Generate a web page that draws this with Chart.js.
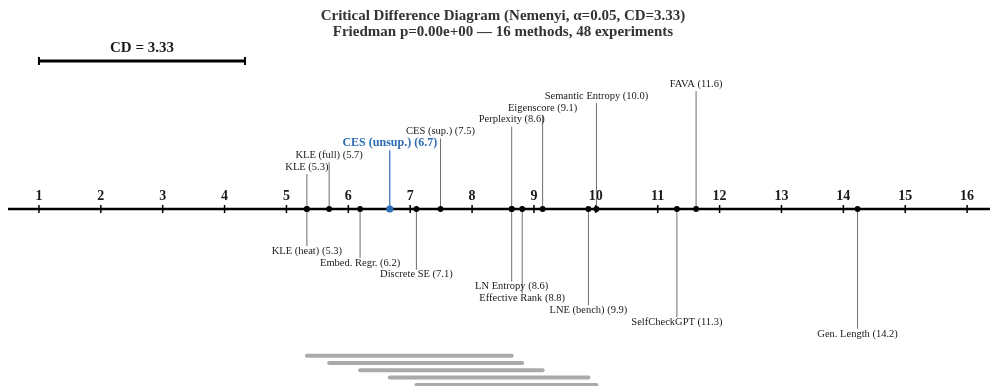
<!DOCTYPE html>
<html><head><meta charset="utf-8">
<script src="https://cdn.jsdelivr.net/npm/chart.js@4.4.1/dist/chart.umd.min.js"></script>
<style>html,body{margin:0;padding:0;background:#fff;} #wrap{width:992px;height:386px;position:relative;}</style>
</head><body><div id="wrap"><canvas id="c"></canvas></div>
<script>
const methods = ['KLE','KLE (heat)','KLE (full)','Embed. Regr.','CES (unsup.)','Discrete SE','CES (sup.)','Perplexity','LN Entropy','Effective Rank','Eigenscore','LNE (bench)','Semantic Entropy','SelfCheckGPT','FAVA','Gen. Length'];
const avgRanks = [5.33,5.33,5.69,6.19,6.67,7.10,7.49,8.64,8.64,8.81,9.14,9.88,10.01,11.31,11.62,14.23];
const labelSide = ['up','down','up','down','up','down','up','up','down','down','up','down','up','down','up','down'];
const highlightMethod = 'CES (unsup.)';
const tickValues = [1,2,3,4,5,6,7,8,9,10,11,12,13,14,15,16];
const tickLabels = ['1','2','3','4','5','6','7','8','9','10','11','12','13','14','15','16'];
const criticalDifference = 3.33;
const cliqueFrom = ['KLE','KLE (full)','Embed. Regr.','CES (unsup.)','Discrete SE'];
const cliqueTo = ['LN Entropy','Effective Rank','Eigenscore','LNE (bench)','Semantic Entropy'];
const titleLines = ['Critical Difference Diagram (Nemenyi, \u03b1=0.05, CD=3.33)','Friedman p=0.00e+00 \u2014 16 methods, 48 experiments'];

const SERIF = "'Liberation Serif','Times New Roman','DejaVu Serif',serif";
const BLUE = '#2d6db4';

// levels per side
const levels = [];
let upCount = 0, downCount = 0;
methods.forEach((m, i) => { levels[i] = labelSide[i] === 'up' ? upCount++ : downCount++; });

const rankOf = name => avgRanks[methods.indexOf(name)];

const cliqueDatasets = cliqueFrom.map((f, i) => ({
  type: 'line',
  data: [{x: rankOf(f), y: -146.7 - i * 7.3}, {x: rankOf(cliqueTo[i]), y: -146.7 - i * 7.3}],
  borderColor: '#aaaaaa', borderWidth: 4, borderCapStyle: 'round',
  pointRadius: 0, showLine: true, clip: false, order: 2
}));

const cdPlugin = {
  id: 'cdPlugin',
  beforeDatasetsDraw(chart) {
    const ctx = chart.ctx, xs = chart.scales.x, ys = chart.scales.y;
    const axisY = ys.getPixelForValue(0);
    ctx.save();
    // main axis
    ctx.strokeStyle = '#000'; ctx.lineWidth = 2.5;
    ctx.beginPath(); ctx.moveTo(chart.chartArea.left, axisY); ctx.lineTo(chart.chartArea.right, axisY); ctx.stroke();
    ctx.lineWidth = 1.5;
    ctx.font = 'bold 14px ' + SERIF; ctx.fillStyle = '#1a1a1a'; ctx.textAlign = 'center'; ctx.textBaseline = 'middle';
    tickValues.forEach((v, i) => {
      const px = xs.getPixelForValue(v);
      ctx.beginPath(); ctx.moveTo(px, axisY - 4); ctx.lineTo(px, axisY + 4); ctx.stroke();
      ctx.fillText(tickLabels[i], px, axisY - 13);
    });
    // leader lines
    methods.forEach((m, i) => {
      const px = xs.getPixelForValue(avgRanks[i]);
      const hl = m === highlightMethod;
      ctx.strokeStyle = hl ? BLUE : '#6e6e6e';
      ctx.lineWidth = hl ? 1.2 : 1;
      ctx.beginPath();
      if (labelSide[i] === 'up') {
        const ly = axisY - 42 - levels[i] * 11.85;
        ctx.moveTo(px, axisY); ctx.lineTo(px, ly + 7);
      } else {
        const ly = axisY + 42 + levels[i] * 11.85;
        ctx.moveTo(px, axisY); ctx.lineTo(px, ly - 5);
      }
      ctx.stroke();
    });
    // CD bar
    const cdY = 61;
    const x0 = xs.getPixelForValue(tickValues[0]), x1 = xs.getPixelForValue(tickValues[0] + criticalDifference);
    ctx.strokeStyle = '#000'; ctx.lineWidth = 3;
    ctx.beginPath(); ctx.moveTo(x0, cdY); ctx.lineTo(x1, cdY); ctx.stroke();
    ctx.lineWidth = 2;
    ctx.beginPath(); ctx.moveTo(x0, cdY - 4); ctx.lineTo(x0, cdY + 4); ctx.moveTo(x1, cdY - 4); ctx.lineTo(x1, cdY + 4); ctx.stroke();
    ctx.font = 'bold 15px ' + SERIF; ctx.fillStyle = '#1a1a1a';
    ctx.fillText('CD = ' + criticalDifference.toFixed(2), (x0 + x1) / 2, 48);
    ctx.restore();
  },
  afterDatasetsDraw(chart) {
    const ctx = chart.ctx, xs = chart.scales.x, ys = chart.scales.y;
    const axisY = ys.getPixelForValue(0);
    ctx.save();
    ctx.textAlign = 'center'; ctx.textBaseline = 'middle';
    methods.forEach((m, i) => {
      const px = xs.getPixelForValue(avgRanks[i]);
      const hl = m === highlightMethod;
      const ly = labelSide[i] === 'up' ? axisY - 42 - levels[i] * 11.85 : axisY + 42 + levels[i] * 11.85;
      ctx.font = hl ? 'bold 12px ' + SERIF : '10.5px ' + SERIF;
      ctx.fillStyle = hl ? BLUE : '#1a1a1a';
      ctx.fillText(m + ' (' + avgRanks[i].toFixed(1) + ')', px, ly);
    });
    ctx.font = 'bold 15px ' + SERIF; ctx.fillStyle = '#333';
    ctx.fillText(titleLines[0], 503, 16);
    ctx.fillText(titleLines[1], 503, 32);
    ctx.restore();
  }
};

new Chart(document.getElementById('c'), {
  type: 'scatter',
  data: {
    datasets: [
      {
        data: avgRanks.map(r => ({x: r, y: 0})),
        pointRadius: methods.map(m => m === highlightMethod ? 3.6 : 2.9),
        pointHoverRadius: methods.map(m => m === highlightMethod ? 3.6 : 2.9),
        pointBackgroundColor: methods.map(m => m === highlightMethod ? BLUE : '#000'),
        pointBorderColor: methods.map(m => m === highlightMethod ? BLUE : '#000'),
        pointBorderWidth: 0, clip: false, order: 1
      },
      ...cliqueDatasets
    ]
  },
  options: {
    responsive: true, maintainAspectRatio: false, animation: false,
    layout: {autoPadding: false, padding: {left: 8, right: 2, top: 0, bottom: 0}},
    scales: {
      x: {type: 'linear', min: 0.5, max: 16.37, display: false},
      y: {type: 'linear', min: -177, max: 209, display: false}
    },
    plugins: {legend: {display: false}, tooltip: {enabled: false}}
  },
  plugins: [cdPlugin]
});
</script></body></html>
